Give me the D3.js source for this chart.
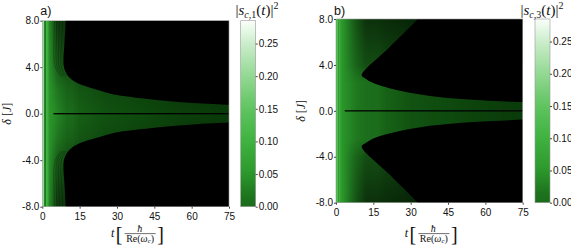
<!DOCTYPE html>
<html>
<head>
<meta charset="utf-8">
<script src="https://cdn.jsdelivr.net/npm/d3@7"></script>
<style>
  body { margin: 0; background: #fff; }
  svg { display: block; }
  .tick text { font-family: "Liberation Sans", Arial, sans-serif; font-size: 10px; fill: #111; }
  .math { font-family: "Liberation Serif", "DejaVu Serif", serif; fill: #111; }
</style>
</head>
<body>
<svg id="chart" width="571" height="245"></svg>
<script>
// ticks
const tTicks = [0, 15, 30, 45, 60, 75];
const deltaTicks = [8, 4, 0, -4, -8];
const cbarTicks = [0, 0.05, 0.10, 0.15, 0.20, 0.25];
const cbarMax = 0.285;

// colour map (value -> colour)
const colorVals = [0, 0.002, 0.004, 0.008, 0.05, 0.10, 0.15, 0.20, 0.25, 0.285];
const colorHex = ["#000000", "#062a06", "#0e4a0e", "#1b6c1b", "#2b982b", "#3fb23f", "#5fc45f", "#93d893", "#cbedcb", "#fbfffb"];

// panel a) |s_c,1|^2 : value of the green region along t
const aLevelT = [0, 0.7, 0.9, 1.3, 1.5, 2.3, 2.8, 4, 6, 8, 10, 15, 25, 40, 55, 75];
const aLevelV = [0.21, 0.2, 0.02, 0.02, 0.11, 0.085, 0.05, 0.045, 0.032, 0.02, 0.009, 0.0065, 0.005, 0.004, 0.0034, 0.003];
// relative brightness away from delta = 0 (after early times)
const aFadeD = [0, 2, 4, 8];
const aFadeV = [1, 0.9, 0.7, 0.45];
const aFadeT = [2, 6];
// upper edge of the dark region (mirrored for delta < 0)
const aEdgeT = [9.5, 8.9, 8.5, 8.6, 9.3, 10.5, 12, 15, 19, 23, 30, 37, 50, 62, 75];
const aEdgeD = [8.3, 6.0, 4.8, 4.1, 3.6, 3.2, 2.9, 2.55, 2.25, 2.0, 1.6, 1.4, 1.1, 0.9, 0.76];
const aLineStart = 4.5;
// faint fringes left of the edge, early times (t shift from the edge)
const aFringeShift = [-1.3, -2.5, -3.6, -4.6];

// panel b) |s_c,3|^2
const bLevelT = [0, 0.6, 1.0, 1.4, 2.0, 3, 5, 8, 12, 20, 30, 45, 60, 75];
const bLevelV = [0.1, 0.13, 0.06, 0.095, 0.055, 0.045, 0.036, 0.02, 0.01, 0.0068, 0.005, 0.004, 0.0034, 0.003];
const bFadeD = [0, 2.5, 4, 8];
const bFadeV = [1, 1, 0.7, 0.45];
const bFadeT = [3, 12];
const bEdgeT = [33.8, 32.8, 21.5, 10.3, 12, 13.7, 17.7, 25.7, 37.8, 55, 75];
const bEdgeD = [8.3, 8.0, 5.55, 3.1, 2.8, 2.55, 2.2, 1.75, 1.3, 0.97, 0.76];
const bLineStart = 3.5;
const bFringeShift = [];

const color = d3.scaleLinear().domain(colorVals).range(colorHex).clamp(true);

const svg = d3.select("#chart");
const defs = svg.append("defs");
defs.append("filter").attr("id", "soft").attr("x", "-5%").attr("y", "-5%").attr("width", "110%").attr("height", "110%")
  .append("feGaussianBlur").attr("stdDeviation", 0.7);

const panels = [
  { id: "a", label: "a)", sub: "1", x0: 42.3, x1: 229, y0: 20.7, y1: 206.7, cb0: 240.7, cb1: 255.7, titleX: 257,
    levelT: aLevelT, levelV: aLevelV, fadeD: aFadeD, fadeV: aFadeV, fadeT: aFadeT,
    edgeT: aEdgeT, edgeD: aEdgeD, lineStart: aLineStart, fringes: aFringeShift },
  { id: "b", label: "b)", sub: "3", x0: 336, x1: 522.7, y0: 19, y1: 202.7, cb0: 535, cb1: 550, titleX: 542,
    levelT: bLevelT, levelV: bLevelV, fadeD: bFadeD, fadeV: bFadeV, fadeT: bFadeT,
    edgeT: bEdgeT, edgeD: bEdgeD, lineStart: bLineStart, fringes: bFringeShift }
];

panels.forEach(p => {
  const x = d3.scaleLinear().domain([0, 75]).range([p.x0, p.x1]);
  const y = d3.scaleLinear().domain([-8, 8]).range([p.y1, p.y0]);
  const w = p.x1 - p.x0, h = p.y1 - p.y0;
  const levelAt = d3.scaleLinear().domain(p.levelT).range(p.levelV).clamp(true);

  defs.append("clipPath").attr("id", "clip-" + p.id)
    .append("rect").attr("x", p.x0).attr("y", p.y0).attr("width", w).attr("height", h);

  // darkening away from delta = 0
  const fgrad = defs.append("linearGradient").attr("id", "fade-" + p.id)
    .attr("gradientUnits", "userSpaceOnUse")
    .attr("x1", 0).attr("x2", 0).attr("y1", y(8)).attr("y2", y(-8));
  const fd = p.fadeD.map((d, i) => [d, p.fadeV[i]]);
  const fall = fd.slice().reverse().map(([d, v]) => [-d, v]).concat(fd.slice(1)).reverse();
  fall.forEach(([d, v]) => {
    fgrad.append("stop").attr("offset", (8 - d) / 16).attr("stop-color", "#000").attr("stop-opacity", 1 - v);
  });
  const mgrad = defs.append("linearGradient").attr("id", "mgrad-" + p.id)
    .attr("gradientUnits", "userSpaceOnUse")
    .attr("x1", x(p.fadeT[0])).attr("x2", x(p.fadeT[1])).attr("y1", 0).attr("y2", 0);
  mgrad.append("stop").attr("offset", 0).attr("stop-color", "#000");
  mgrad.append("stop").attr("offset", 1).attr("stop-color", "#fff");
  defs.append("mask").attr("id", "mask-" + p.id).attr("maskUnits", "userSpaceOnUse")
    .attr("x", p.x0).attr("y", p.y0).attr("width", w).attr("height", h)
    .append("rect").attr("x", p.x0).attr("y", p.y0).attr("width", w).attr("height", h)
    .attr("fill", "url(#mgrad-" + p.id + ")");

  const g = svg.append("g").attr("clip-path", "url(#clip-" + p.id + ")");

  // one column per pixel, coloured by the value at that t
  const cols = d3.range(Math.floor(p.x0), Math.ceil(p.x1));
  g.append("g").selectAll("rect").data(cols).join("rect")
    .attr("x", d => d).attr("y", p.y0).attr("width", 1.05).attr("height", h)
    .attr("shape-rendering", "crispEdges")
    .attr("fill", d => color(levelAt(x.invert(d + 0.5))));

  g.append("rect").attr("x", p.x0).attr("y", p.y0).attr("width", w).attr("height", h)
    .attr("fill", "url(#fade-" + p.id + ")").attr("mask", "url(#mask-" + p.id + ")");

  const curve = d3.line().curve(d3.curveCatmullRom.alpha(0.5));

  // faint fringes following the upper part of the edge
  [1, -1].forEach(s => {
    p.fringes.forEach(dt => {
      const pts = p.edgeT.slice(0, 6).map((t, i) => [x(t + dt * (1 - i * 0.08)), y(s * p.edgeD[i])]);
      g.append("path").attr("d", curve(pts)).attr("fill", "none")
        .attr("stroke", "#000").attr("stroke-opacity", 0.3).attr("stroke-width", 0.8);
    });
  });

  // dark regions above and below the band
  [1, -1].forEach(s => {
    const pts = p.edgeT.map((t, i) => [x(t), y(s * p.edgeD[i])]);
    const last = pts[pts.length - 1];
    const d = curve(pts) +
      "L" + (last[0] + 4) + "," + last[1] +
      "L" + (last[0] + 4) + "," + y(s * 8.8) +
      "L" + pts[0][0] + "," + y(s * 8.8) + "Z";
    g.append("path").attr("d", d).attr("fill", "#000").attr("filter", "url(#soft)");
  });

  // dark centre line at delta = 0
  g.append("rect").attr("x", x(p.lineStart)).attr("y", y(0.055))
    .attr("width", x(75) - x(p.lineStart) + 2).attr("height", y(-0.055) - y(0.055))
    .attr("fill", "#000");

  // frame
  svg.append("rect").attr("x", p.x0).attr("y", p.y0).attr("width", w).attr("height", h)
    .attr("fill", "none").attr("stroke", "#9a9a9a").attr("stroke-width", 0.6);

  // axes
  const ax = svg.append("g").attr("transform", `translate(0,${p.y1})`)
    .call(d3.axisBottom(x).tickValues(tTicks).tickSize(2).tickPadding(4).tickFormat(d => d));
  const ay = svg.append("g").attr("transform", `translate(${p.x0},0)`)
    .call(d3.axisLeft(y).tickValues(deltaTicks).tickSize(2).tickPadding(1).tickFormat(d => d.toFixed(1)));
  [ax, ay].forEach(a => { a.select(".domain").remove(); a.selectAll("line").attr("stroke", "#444"); });

  // panel label
  svg.append("text").attr("x", p.x0 - 2).attr("y", 15)
    .attr("font-family", "Liberation Sans, Arial, sans-serif").attr("font-size", 12.5)
    .attr("fill", "#111").text(p.label);

  // y label: delta [J]
  const yl = svg.append("text").attr("class", "math").attr("font-size", 12)
    .attr("text-anchor", "middle")
    .attr("transform", `translate(${p.x0 - 31},${(p.y0 + p.y1) / 2}) rotate(-90)`);
  yl.append("tspan").attr("font-style", "italic").text("δ");
  yl.append("tspan").text(" [");
  yl.append("tspan").attr("font-style", "italic").text("J");
  yl.append("tspan").text("]");

  // x label: t [hbar / Re(omega_c)]
  const xc = (p.x0 + p.x1) / 2;
  svg.append("text").attr("class", "math").attr("x", xc - 23).attr("y", 237)
    .attr("font-size", 12).attr("font-style", "italic").attr("text-anchor", "middle").text("t");
  svg.append("text").attr("class", "math").attr("x", xc - 16.5).attr("y", 240.5)
    .attr("font-size", 20).attr("fill", "#333").attr("text-anchor", "middle").text("[");
  svg.append("text").attr("class", "math").attr("x", xc + 25).attr("y", 240.5)
    .attr("font-size", 20).attr("fill", "#333").attr("text-anchor", "middle").text("]");
  svg.append("text").attr("class", "math").attr("x", xc + 4).attr("y", 231.5)
    .attr("font-size", 10).attr("font-style", "italic").attr("text-anchor", "middle").text("ħ");
  svg.append("line").attr("x1", xc - 11).attr("x2", xc + 20).attr("y1", 233.6).attr("y2", 233.6)
    .attr("stroke", "#111").attr("stroke-width", 0.6);
  const den = svg.append("text").attr("class", "math").attr("x", xc + 4.5).attr("y", 241.5)
    .attr("font-size", 10).attr("text-anchor", "middle");
  den.append("tspan").text("Re(");
  den.append("tspan").attr("font-style", "italic").text("ω");
  den.append("tspan").attr("font-style", "italic").attr("font-size", 7).attr("dy", 1.5).text("c");
  den.append("tspan").attr("dy", -1.5).text(")");

  // colour bar
  const cy = d3.scaleLinear().domain([0, cbarMax]).range([p.y1, p.y0]);
  const cgrad = defs.append("linearGradient").attr("id", "cgrad-" + p.id)
    .attr("x1", 0).attr("x2", 0).attr("y1", 1).attr("y2", 0);
  d3.range(0, 21).forEach(i => {
    const v = cbarMax * i / 20;
    cgrad.append("stop").attr("offset", i / 20).attr("stop-color", color(Math.max(v, 0.008)));
  });
  svg.append("rect").attr("x", p.cb0).attr("y", p.y0)
    .attr("width", p.cb1 - p.cb0).attr("height", h)
    .attr("fill", "url(#cgrad-" + p.id + ")").attr("stroke", "#9a9a9a").attr("stroke-width", 0.6);
  const ac = svg.append("g").attr("transform", `translate(${p.cb1},0)`)
    .call(d3.axisRight(cy).tickValues(cbarTicks).tickSize(2).tickPadding(1).tickFormat(d3.format(".2f")));
  ac.select(".domain").remove();
  ac.selectAll("line").attr("stroke", "#444");

  // colour bar title |s_{c,k}(t)|^2
  const ct = svg.append("text").attr("class", "math").attr("x", p.titleX).attr("y", 15)
    .attr("font-size", 15).attr("text-anchor", "middle");
  ct.append("tspan").text("|");
  ct.append("tspan").attr("font-style", "italic").text("s");
  ct.append("tspan").attr("font-size", 10).attr("dy", 2.5).attr("font-style", "italic").text("c");
  ct.append("tspan").attr("font-size", 10).text("," + p.sub);
  ct.append("tspan").attr("dy", -2.5).text("(");
  ct.append("tspan").attr("font-style", "italic").text("t");
  ct.append("tspan").text(")|");
  ct.append("tspan").attr("font-size", 10).attr("dy", -6).text("2");
});
</script>
</body>
</html>
